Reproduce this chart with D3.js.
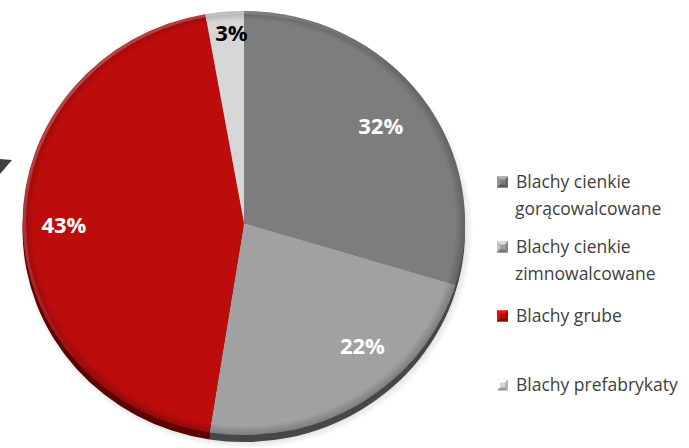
<!DOCTYPE html>
<html><head><meta charset="utf-8">
<script src="https://cdn.jsdelivr.net/npm/d3@7"></script>
<style>body{margin:0;background:#fff}svg{display:block}</style>
</head><body>
<svg id="c" width="689" height="448"></svg>
<script>
const categories = ["Blachy cienkie gorącowalcowane","Blachy cienkie zimnowalcowane","Blachy grube","Blachy prefabrykaty"];
const legendLines = [["Blachy cienkie","gorącowalcowane"],["Blachy cienkie","zimnowalcowane"],["Blachy grube"],["Blachy prefabrykaty"]];
const values = [29.7, 22.8, 44.7, 2.8];
const labels = ["32%","22%","43%","3%"];
const colors = ["#7d7d7d","#a1a1a1","#bd0c0c","#d7d7d7"];
const rimColors = ["#454545","#474747","#5e0000","#5a5a5a"];
const labelColors = ["#fff","#fff","#fff","#000"];

const svg = d3.select("#c");
const defs = svg.append("defs");
const cx = 244, cy = 223, rx = 221, ry = 212;

// decorative arrow fragment at left edge
svg.append("path").attr("d","M0,159L12,160L0,174Z").attr("fill","#404040");

const pie = d3.pie().sort(null).value(d=>d)(values);
const arc = d3.arc().innerRadius(0).outerRadius(1);

// soft shadow
const sh = defs.append("radialGradient").attr("id","sh");
sh.append("stop").attr("offset","0.9").attr("stop-color","#000").attr("stop-opacity",0.3);
sh.append("stop").attr("offset","1").attr("stop-color","#000").attr("stop-opacity",0);
svg.append("ellipse").attr("cx",cx+2).attr("cy",cy+8).attr("rx",rx+6).attr("ry",ry+6).attr("fill","url(#sh)");

// rim (3D bevel) layer
const rim = svg.append("g").attr("transform",`translate(${cx},${cy+7}) scale(${rx},${ry})`);
rim.selectAll("path").data(pie).join("path").attr("d",arc).attr("fill",(d,i)=>rimColors[i]);

// face
const face = svg.append("g").attr("transform",`translate(${cx},${cy}) scale(${rx},${ry})`);
face.selectAll("path").data(pie).join("path").attr("d",arc).attr("fill",(d,i)=>colors[i]);

// edge shading overlay
const eg = defs.append("radialGradient").attr("id","eg");
eg.append("stop").attr("offset","0.955").attr("stop-color","#000").attr("stop-opacity",0);
eg.append("stop").attr("offset","1").attr("stop-color","#000").attr("stop-opacity",0.22);
svg.append("ellipse").attr("cx",cx).attr("cy",cy).attr("rx",rx).attr("ry",ry).attr("fill","url(#eg)");
const hl = defs.append("linearGradient").attr("id","hl").attr("x1","0").attr("y1","0").attr("x2","1").attr("y2","1");
hl.append("stop").attr("offset","0").attr("stop-color","#fff").attr("stop-opacity",0.35);
hl.append("stop").attr("offset","0.5").attr("stop-color","#fff").attr("stop-opacity",0);
svg.append("ellipse").attr("cx",cx).attr("cy",cy).attr("rx",rx-1.5).attr("ry",ry-1.5)
  .attr("fill","none").attr("stroke","url(#hl)").attr("stroke-width",3);

// labels (best-fit style placement inside slices)
const lr = [0.77, 0.79, 0.815, 0.90];
const lf = [0.5, 0.37, 0.5, 0.64];
const la = (d,i)=> d.startAngle + (d.endAngle-d.startAngle)*lf[i];
svg.append("g").selectAll("text").data(pie).join("text")
  .attr("x",(d,i)=> cx + Math.sin(la(d,i))*rx*lr[i])
  .attr("y",(d,i)=> cy - Math.cos(la(d,i))*ry*lr[i])
  .attr("dy","0.36em").attr("text-anchor","middle")
  .attr("font-family","'Open Sans', sans-serif").attr("font-weight","bold").attr("font-size",22)
  .attr("fill",(d,i)=>labelColors[i]).text((d,i)=>labels[i]);

// legend
const rowY = [182,247,316,385];
const lg = svg.append("g");
categories.forEach((c,i)=>{
  const g = lg.append("g").attr("transform",`translate(497,${rowY[i]})`);
  const s=11, h=s/2, b=3;
  const base = d3.color(colors[i]);
  g.append("rect").attr("x",0).attr("y",-h).attr("width",s).attr("height",s).attr("fill",base);
  g.append("path").attr("d",`M0,${-h}L${s},${-h}L${s-b},${-h+b}L${b},${-h+b}Z`).attr("fill",base.brighter(0.9));
  g.append("path").attr("d",`M0,${-h}L${b},${-h+b}L${b},${h-b}L0,${h}Z`).attr("fill",base.brighter(0.5));
  g.append("path").attr("d",`M0,${h}L${s},${h}L${s-b},${h-b}L${b},${h-b}Z`).attr("fill",base.darker(0.9));
  g.append("path").attr("d",`M${s},${-h}L${s},${h}L${s-b},${h-b}L${s-b},${-h+b}Z`).attr("fill",base.darker(0.5));
  const t = g.append("text").attr("x",19).attr("y",0)
    .attr("font-family","'Open Sans', sans-serif").attr("font-size",17.5).attr("fill","#404040");
  legendLines[i].forEach((ln,j)=>{
    t.append("tspan").attr("x", j===0?19:18).attr("dy", j===0?"0.36em":"27").text(ln);
  });
});
</script>
</body></html>
